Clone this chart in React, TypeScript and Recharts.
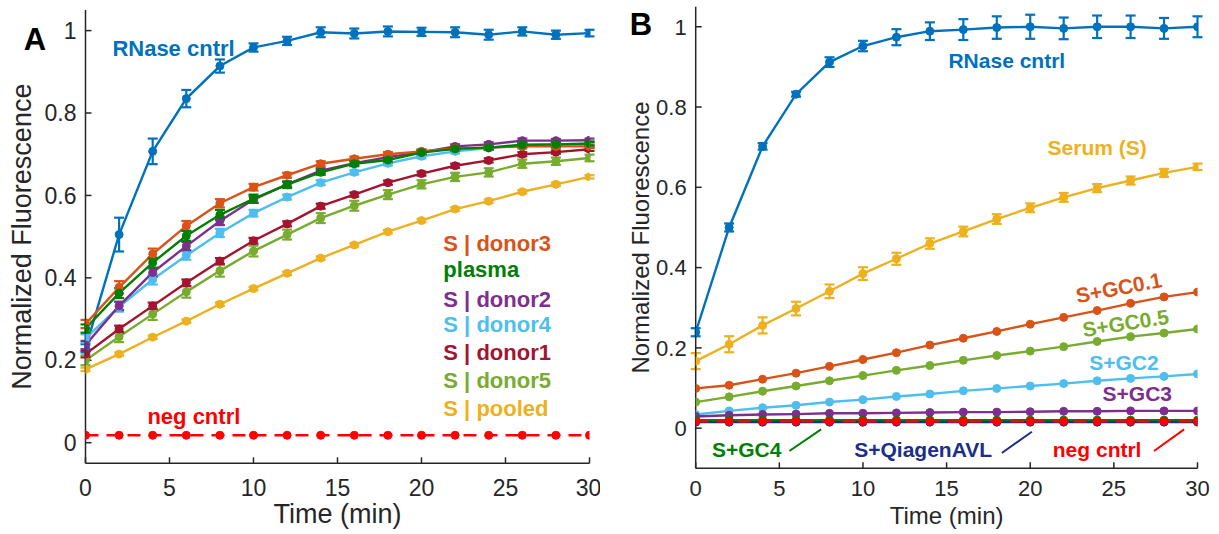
import { Line, LineChart, XAxis, YAxis, ErrorBar, ReferenceDot, ReferenceLine } from "recharts"

const times = [0, 2, 4, 6, 8, 10, 12, 14, 16, 18, 20, 22, 24, 26, 28, 30]
const xTicks = [0, 5, 10, 15, 20, 25, 30]
const yTicks = [0, 0.2, 0.4, 0.6, 0.8, 1]

// panel A
const rnaseA = [0.229, 0.505, 0.707, 0.835, 0.914, 0.959, 0.975, 0.996, 0.993, 0.998, 0.997, 0.996, 0.99, 0.998, 0.99, 0.994]
const rnaseAErr = [0.01, 0.041, 0.031, 0.021, 0.016, 0.01, 0.01, 0.012, 0.012, 0.012, 0.01, 0.012, 0.012, 0.01, 0.01, 0.008]
const donor3 = [0.288, 0.377, 0.458, 0.526, 0.581, 0.62, 0.649, 0.677, 0.689, 0.7, 0.707, 0.714, 0.716, 0.719, 0.719, 0.719]
const donor3Err = [0.01, 0.015, 0.013, 0.012, 0.01, 0.008, 0.006, 0.006, 0.005, 0.005, 0.005, 0.005, 0.005, 0.005, 0.004, 0.004]
const plasma = [0.277, 0.363, 0.437, 0.502, 0.553, 0.592, 0.626, 0.656, 0.677, 0.686, 0.704, 0.713, 0.716, 0.723, 0.724, 0.726]
const plasmaErr = [0.01, 0.012, 0.012, 0.012, 0.012, 0.01, 0.008, 0.006, 0.006, 0.006, 0.005, 0.005, 0.005, 0.005, 0.005, 0.005]
const donor2 = [0.237, 0.332, 0.413, 0.477, 0.538, 0.59, 0.627, 0.66, 0.678, 0.693, 0.705, 0.719, 0.724, 0.733, 0.733, 0.734]
const donor2Err = [0.01, 0.01, 0.01, 0.01, 0.01, 0.008, 0.006, 0.006, 0.005, 0.005, 0.005, 0.005, 0.005, 0.005, 0.004, 0.004]
const donor4 = [0.253, 0.33, 0.396, 0.454, 0.509, 0.557, 0.596, 0.631, 0.656, 0.678, 0.695, 0.707, 0.715, 0.722, 0.724, 0.724]
const donor4Err = [0.01, 0.012, 0.012, 0.01, 0.01, 0.008, 0.006, 0.006, 0.005, 0.005, 0.005, 0.005, 0.005, 0.005, 0.004, 0.004]
const donor1 = [0.215, 0.276, 0.332, 0.388, 0.441, 0.49, 0.531, 0.574, 0.602, 0.631, 0.653, 0.672, 0.685, 0.7, 0.705, 0.712]
const donor1Err = [0.008, 0.008, 0.008, 0.008, 0.007, 0.007, 0.006, 0.006, 0.005, 0.005, 0.005, 0.005, 0.005, 0.005, 0.004, 0.004]
const donor5 = [0.2, 0.257, 0.312, 0.366, 0.417, 0.465, 0.505, 0.545, 0.575, 0.602, 0.627, 0.645, 0.656, 0.677, 0.683, 0.691]
const donor5Err = [0.012, 0.013, 0.014, 0.014, 0.014, 0.013, 0.012, 0.012, 0.012, 0.011, 0.01, 0.01, 0.01, 0.01, 0.009, 0.008]
const pooled = [0.178, 0.215, 0.256, 0.295, 0.336, 0.374, 0.411, 0.448, 0.48, 0.512, 0.539, 0.567, 0.586, 0.609, 0.627, 0.645]
const pooledErr = [0.004, 0.004, 0.004, 0.004, 0.004, 0.004, 0.004, 0.004, 0.004, 0.004, 0.004, 0.004, 0.004, 0.004, 0.004, 0.004]
const negA = [0.018, 0.018, 0.018, 0.018, 0.018, 0.018, 0.018, 0.018, 0.018, 0.018, 0.018, 0.018, 0.018, 0.018, 0.018, 0.018]

// panel B
const rnaseB = [0.239, 0.5, 0.702, 0.832, 0.912, 0.952, 0.974, 0.989, 0.993, 0.998, 1.0, 0.996, 1.0, 1.0, 0.996, 1.0]
const rnaseBErr = [0.01, 0.01, 0.008, 0.006, 0.012, 0.013, 0.02, 0.022, 0.026, 0.028, 0.03, 0.027, 0.028, 0.028, 0.026, 0.026]
const serum = [0.167, 0.209, 0.256, 0.298, 0.341, 0.385, 0.422, 0.46, 0.49, 0.521, 0.549, 0.575, 0.598, 0.617, 0.636, 0.651]
const serumErr = [0.02, 0.02, 0.02, 0.017, 0.017, 0.016, 0.015, 0.013, 0.012, 0.012, 0.011, 0.011, 0.01, 0.01, 0.01, 0.008]
const gc01 = [0.099, 0.107, 0.122, 0.137, 0.154, 0.171, 0.188, 0.207, 0.224, 0.241, 0.259, 0.276, 0.293, 0.311, 0.327, 0.339]
const gc05 = [0.065, 0.078, 0.092, 0.105, 0.118, 0.131, 0.144, 0.156, 0.169, 0.181, 0.192, 0.203, 0.216, 0.228, 0.237, 0.247]
const gc2 = [0.034, 0.043, 0.051, 0.057, 0.065, 0.071, 0.079, 0.085, 0.093, 0.099, 0.105, 0.111, 0.118, 0.124, 0.129, 0.135]
const gc3 = [0.029, 0.032, 0.034, 0.035, 0.037, 0.037, 0.038, 0.039, 0.04, 0.04, 0.041, 0.042, 0.042, 0.043, 0.043, 0.043]
const gc4 = [0.02, 0.02, 0.02, 0.02, 0.02, 0.02, 0.02, 0.02, 0.02, 0.02, 0.02, 0.02, 0.02, 0.02, 0.02, 0.02]
const qiagen = [0.015, 0.015, 0.015, 0.015, 0.015, 0.015, 0.015, 0.015, 0.015, 0.015, 0.015, 0.015, 0.015, 0.015, 0.015, 0.015]
const negB = [0.017, 0.017, 0.017, 0.017, 0.017, 0.017, 0.017, 0.017, 0.017, 0.017, 0.017, 0.017, 0.017, 0.017, 0.017, 0.017]

const font = "'Liberation Sans', Arial, Helvetica, sans-serif"
const ink = "#262626"

const C = {
  blue: "#0072BD",
  orange: "#D95319",
  yellow: "#EDB120",
  purple: "#7E2F8E",
  lime: "#77AC30",
  cyan: "#4DBEEE",
  wine: "#A2142F",
  green: "#008000",
  navy: "#1A2E8A",
  red: "#FF0000",
}

type Series = { key: string; values: number[]; err?: number[]; color: string; dashed?: boolean }

const seriesA: Series[] = [
  { key: "neg", values: negA, color: C.red, dashed: true },
  { key: "rnase", values: rnaseA, err: rnaseAErr, color: C.blue },
  { key: "pooled", values: pooled, err: pooledErr, color: C.yellow },
  { key: "donor5", values: donor5, err: donor5Err, color: C.lime },
  { key: "donor1", values: donor1, err: donor1Err, color: C.wine },
  { key: "donor4", values: donor4, err: donor4Err, color: C.cyan },
  { key: "donor2", values: donor2, err: donor2Err, color: C.purple },
  { key: "donor3", values: donor3, err: donor3Err, color: C.orange },
  { key: "plasma", values: plasma, err: plasmaErr, color: C.green },
]

const seriesB: Series[] = [
  { key: "rnase", values: rnaseB, err: rnaseBErr, color: C.blue },
  { key: "serum", values: serum, err: serumErr, color: C.yellow },
  { key: "gc01", values: gc01, color: C.orange },
  { key: "gc05", values: gc05, color: C.lime },
  { key: "gc2", values: gc2, color: C.cyan },
  { key: "gc3", values: gc3, color: C.purple },
  { key: "gc4", values: gc4, color: C.green },
  { key: "qiagen", values: qiagen, color: C.navy },
  { key: "neg", values: negB, color: C.red, dashed: true },
]

// text annotations, in data coordinates
type Note = { text: string; x: number; y: number; color: string; anchor?: "start" | "middle" | "end"; rot?: number }

const notesA: Note[] = [
  { text: "RNase cntrl", x: 1.6, y: 0.957, color: C.blue, anchor: "start" },
  { text: "neg cntrl", x: 6.45, y: 0.064, color: C.red },
  { text: "S | donor3", x: 21.3, y: 0.483, color: C.orange, anchor: "start" },
  { text: "plasma", x: 21.3, y: 0.421, color: C.green, anchor: "start" },
  { text: "S | donor2", x: 21.3, y: 0.348, color: C.purple, anchor: "start" },
  { text: "S | donor4", x: 21.3, y: 0.286, color: C.cyan, anchor: "start" },
  { text: "S | donor1", x: 21.3, y: 0.22, color: C.wine, anchor: "start" },
  { text: "S | donor5", x: 21.3, y: 0.151, color: C.lime, anchor: "start" },
  { text: "S | pooled", x: 21.3, y: 0.083, color: C.yellow, anchor: "start" },
]

const notesB: Note[] = [
  { text: "RNase cntrl", x: 18.6, y: 0.915, color: C.blue },
  { text: "Serum (S)", x: 24.0, y: 0.7, color: C.yellow },
  { text: "S+GC0.1", x: 25.3, y: 0.35, color: C.orange, rot: -11 },
  { text: "S+GC0.5", x: 25.7, y: 0.262, color: C.lime, rot: -9 },
  { text: "S+GC2", x: 25.6, y: 0.164, color: C.cyan },
  { text: "S+GC3", x: 26.4, y: 0.086, color: C.purple },
  { text: "S+GC4", x: 3.05, y: -0.052, color: C.green },
  { text: "S+QiagenAVL", x: 13.6, y: -0.052, color: C.navy },
  { text: "neg cntrl", x: 24.0, y: -0.052, color: C.red },
]

const leadersB = [
  { from: [5.6, -0.057], to: [7.5, -0.003], color: C.green },
  { from: [18.3, -0.062], to: [20.1, -0.009], color: C.navy },
  { from: [27.4, -0.057], to: [29.2, -0.003], color: C.red },
]

function rows(list: Series[]) {
  return times.map((t, i) => {
    const r: Record<string, number> = { t }
    list.forEach((s) => {
      r[s.key] = s.values[i]
      if (s.err) r[s.key + "Err"] = s.err[i]
    })
    return r
  })
}

const noteLabel = (n: Note, size: number) => (p: any) => {
  const vb = p.viewBox || { x: 0, y: 0, width: 0, height: 0 }
  const x = vb.x + (vb.width || 0) / 2
  const y = vb.y + (vb.height || 0) / 2
  return (
    <text
      x={x}
      y={y}
      fill={n.color}
      fontSize={size}
      fontWeight="bold"
      fontFamily={font}
      textAnchor={n.anchor || "middle"}
      dominantBaseline="central"
      transform={n.rot ? `rotate(${n.rot} ${x} ${y})` : undefined}
    >
      {n.text}
    </text>
  )
}

const yTitle = (size: number, offset: number) => (p: any) => {
  const vb = p.viewBox || { x: 0, y: 0, width: 0, height: 0 }
  const x = vb.x + offset
  const y = vb.y + vb.height / 2
  return (
    <text x={x} y={y} fill={ink} fontSize={size} fontFamily={font} textAnchor="middle" dominantBaseline="central" transform={`rotate(-90 ${x} ${y})`}>
      Normalized Fluorescence
    </text>
  )
}

const xTitle = (size: number, baseline: number) => (p: any) => {
  const vb = p.viewBox || { x: 0, y: 0, width: 0, height: 0 }
  return (
    <text x={vb.x + vb.width / 2} y={vb.y + baseline} fill={ink} fontSize={size} fontFamily={font} textAnchor="middle">
      Time (min)
    </text>
  )
}

type PanelProps = {
  series: Series[]
  notes: Note[]
  yDomain: [number, number]
  margin: { top: number; right: number; left: number; bottom: number }
  yAxisWidth: number
  tickFont: number
  titleFont: number
  noteFont: number
  xTickMargin: number
  yTitleOffset: number
  xTitleBaseline: number
  leaders?: typeof leadersB
}

function Panel(p: PanelProps) {
  const data = rows(p.series)
  return (
    <LineChart width={600} height={534} data={data} margin={p.margin}>
      <XAxis
        xAxisId="top"
        orientation="top"
        type="number"
        dataKey="t"
        domain={[0, 30]}
        ticks={xTicks}
        height={0}
        tick={false}
        tickSize={-6}
        stroke={ink}
        strokeWidth={1.5}
        allowDataOverflow
      />
      <YAxis
        yAxisId="right"
        orientation="right"
        type="number"
        domain={p.yDomain}
        ticks={yTicks}
        width={0}
        tick={false}
        tickSize={-6}
        stroke={ink}
        strokeWidth={1.5}
        allowDataOverflow
      />
      <XAxis
        type="number"
        dataKey="t"
        domain={[0, 30]}
        ticks={xTicks}
        height={40}
        tickSize={-6}
        tickMargin={p.xTickMargin}
        stroke={ink}
        strokeWidth={1.5}
        tick={{ fill: ink, fontSize: p.tickFont, fontFamily: font }}
        label={xTitle(p.titleFont, p.xTitleBaseline)}
        allowDataOverflow
      />
      <YAxis
        type="number"
        domain={p.yDomain}
        ticks={yTicks}
        width={p.yAxisWidth}
        tickSize={-6}
        tickMargin={15}
        stroke={ink}
        strokeWidth={1.5}
        tick={{ fill: ink, fontSize: p.tickFont, fontFamily: font }}
        tickFormatter={(v) => `${v}`}
        label={yTitle(p.titleFont, p.yTitleOffset)}
        allowDataOverflow
      />
      {p.series.map((s) => (
        <Line
          key={s.key}
          dataKey={s.key}
          stroke={s.color}
          strokeWidth={2.4}
          strokeDasharray={s.dashed ? "13 8" : undefined}
          dot={{ r: 4, fill: s.color, stroke: s.color, strokeWidth: 1, strokeDasharray: "" }}
          activeDot={false}
          isAnimationActive={false}
        >
          {s.err && <ErrorBar dataKey={s.key + "Err"} direction="y" width={5} stroke={s.color} strokeWidth={2.2} />}
        </Line>
      ))}
      {(p.leaders || []).map((l, i) => (
        <ReferenceLine
          key={"l" + i}
          segment={[
            { x: l.from[0], y: l.from[1] },
            { x: l.to[0], y: l.to[1] },
          ]}
          stroke={l.color}
          strokeWidth={2}
        />
      ))}
      {p.notes.map((n) => (
        <ReferenceDot key={n.text} x={n.x} y={n.y} r={0} fill="none" stroke="none" label={noteLabel(n, p.noteFont)} />
      ))}
    </LineChart>
  )
}

export default function App() {
  return (
    <div style={{ position: "absolute", left: 0, top: 0, width: 1219, height: 534, background: "#fff" }}>
      <div style={{ position: "absolute", left: 0, top: 0 }}>
        <Panel
          series={seriesA}
          notes={notesA}
          yDomain={[-0.05, 1.05]}
          margin={{ top: 10, right: 10.5, left: 0, bottom: 30.7 }}
          yAxisWidth={85.5}
          tickFont={23}
          titleFont={27}
          noteFont={22}
          xTickMargin={22}
          yTitleOffset={22}
          xTitleBaseline={60}
        />
      </div>
      <div style={{ position: "absolute", left: 610, top: 0 }}>
        <Panel
          series={seriesB}
          notes={notesB}
          yDomain={[-0.1, 1.05]}
          margin={{ top: 6.7, right: 12.5, left: 0, bottom: 25.7 }}
          yAxisWidth={85.7}
          tickFont={22}
          titleFont={24}
          noteFont={21}
          xTickMargin={18}
          yTitleOffset={30}
          xTitleBaseline={56}
          leaders={leadersB}
        />
      </div>
      <svg width={1219} height={534} style={{ position: "absolute", left: 0, top: 0, pointerEvents: "none" }}>
        <text x={35} y={50} fontSize={31} fontWeight="bold" fontFamily={font} textAnchor="middle" fill="#000">
          A
        </text>
        <text x={641} y={35} fontSize={31} fontWeight="bold" fontFamily={font} textAnchor="middle" fill="#000">
          B
        </text>
      </svg>
    </div>
  )
}
